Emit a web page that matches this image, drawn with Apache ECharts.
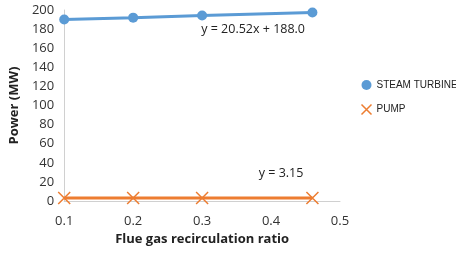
<!DOCTYPE html>
<html>
<head>
<meta charset="utf-8">
<script src="https://cdn.jsdelivr.net/npm/echarts@6/dist/echarts.min.js"></script>
<style>
html,body{margin:0;padding:0;background:#fff;}
#chart{width:456px;height:255px;}
</style>
</head>
<body>
<div id="chart"></div>
<script>
let ratio = [0.1, 0.2, 0.3, 0.46];
let steamTurbine = [190.1, 192.0, 194.3, 197.4];
let pump = [3.15, 3.15, 3.15, 3.15];
let seriesNames = ["STEAM TURBINE", "PUMP"];
let crossIcon = "path://M0,0L10,10M10,0L0,10";
let font = "'Open Sans', 'Liberation Sans', sans-serif";

let myEchart = echarts.init(document.getElementById("chart"));
let opt = {
	animation: false,
	textStyle: { fontFamily: font },
	grid: { left: 58, right: 116, top: 10, bottom: 54 },
	legend: {
		orient: "vertical",
		left: 359,
		top: 80,
		padding: 0,
		itemGap: 12,
		itemWidth: 10,
		itemHeight: 10,
		textStyle: { color: "#222", fontSize: 10, fontFamily: "'Liberation Sans', sans-serif" },
		data: [
			{ name: seriesNames[0], icon: "circle" },
			{ name: seriesNames[1], icon: crossIcon, itemStyle: { color: "none", borderColor: "#ED7D31", borderWidth: 1.5 } }
		]
	},
	xAxis: {
		type: "value",
		min: 0.1,
		max: 0.5,
		interval: 0.1,
		name: "Flue gas recirculation ratio",
		nameLocation: "middle",
		nameGap: 32,
		nameTextStyle: { color: "#222", fontSize: 13, fontWeight: "bold", fontFamily: font },
		axisLine: { show: true, lineStyle: { color: "#d0d0d0" } },
		axisTick: { show: false },
		splitLine: { show: false },
		axisLabel: { color: "#333", fontSize: 13, margin: 14, formatter: v => v.toFixed(1) }
	},
	yAxis: {
		type: "value",
		min: 0,
		max: 200,
		interval: 20,
		name: "Power (MW)",
		nameLocation: "middle",
		nameGap: 38,
		nameTextStyle: { color: "#222", fontSize: 13, fontWeight: "bold", fontFamily: font },
		axisLine: { show: true, lineStyle: { color: "#d0d0d0" } },
		axisTick: { show: false },
		splitLine: { show: false },
		axisLabel: { color: "#333", fontSize: 13, margin: 10 }
	},
	series: [
		{
			name: seriesNames[0],
			type: "line",
			data: ratio.map((x, i) => [x, steamTurbine[i]]),
			symbol: "circle",
			symbolSize: 10,
			lineStyle: { color: "#5B9BD5", width: 3 },
			itemStyle: { color: "#5B9BD5" },
			markPoint: {
				symbol: "rect",
				symbolSize: 1,
				itemStyle: { color: "rgba(0,0,0,0)" },
				data: [{
					coord: [0.3, 194.3],
					label: { show: true, position: "inside", formatter: "y = 20.52x + 188.0", color: "#222", fontSize: 12.5, offset: [51, 14] }
				}]
			}
		},
		{
			name: seriesNames[1],
			type: "line",
			data: ratio.map((x, i) => [x, pump[i]]),
			symbol: crossIcon,
			symbolSize: 12,
			lineStyle: { color: "#ED7D31", width: 3 },
			itemStyle: { color: "none", borderColor: "#ED7D31", borderWidth: 1.5 },
			markPoint: {
				symbol: "rect",
				symbolSize: 1,
				itemStyle: { color: "rgba(0,0,0,0)" },
				data: [{
					coord: [0.3, 3.15],
					label: { show: true, position: "inside", formatter: "y = 3.15", color: "#222", fontSize: 12.5, offset: [79, -25] }
				}]
			}
		}
	]
};
myEchart.setOption(opt);
</script>
</body>
</html>
